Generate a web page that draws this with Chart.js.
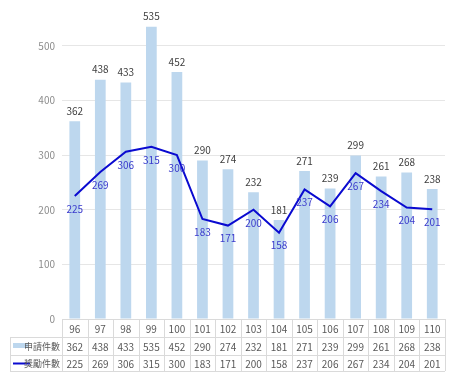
<!DOCTYPE html>
<html><head><meta charset="utf-8">
<script src="https://cdn.jsdelivr.net/npm/chart.js@4/dist/chart.umd.min.js"></script>
<style>html,body{margin:0;padding:0;background:#fff;}#wrap{width:454px;height:380px;}</style>
</head><body><div id="wrap"><canvas id="c" width="454" height="380"></canvas></div>
<script>
const categories = ["96","97","98","99","100","101","102","103","104","105","106","107","108","109","110"];
const applications = [362,438,433,535,452,290,274,232,181,271,239,299,261,268,238];
const awards = [225,269,306,315,300,183,171,200,158,237,206,267,234,204,201];
const seriesNames = ["申請件數","獎勵件數"];
const yTicks = [0,100,200,300,400,500];

const FONT = '"Noto Sans CJK TC", "Noto Sans", sans-serif';
const BAR_COLOR = '#bdd7ee';
const LINE_COLOR = '#0a0ad0';
const GRID = '#e6e6e6';
const TGRID = '#dadada';

const labelPlugin = {
  id: 'labels',
  afterDatasetsDraw(chart) {
    const ctx = chart.ctx;
    ctx.save();
    ctx.font = '10px ' + FONT;
    ctx.textAlign = 'center';
    ctx.textBaseline = 'middle';
    const bm = chart.getDatasetMeta(0);
    ctx.fillStyle = '#404040';
    bm.data.forEach((el, i) => { ctx.fillText(String(applications[i]), el.x, el.y - 10); });
    const lm = chart.getDatasetMeta(1);
    ctx.fillStyle = '#3a3acc';
    lm.data.forEach((el, i) => { ctx.fillText(String(awards[i]), el.x, el.y + 13); });
    ctx.restore();
  }
};

const tablePlugin = {
  id: 'table',
  afterDraw(chart) {
    const ctx = chart.ctx;
    const x = chart.scales.x;
    const ca = chart.chartArea;
    const top = ca.bottom;
    const rowH = [18, 18, 16];
    const r1 = top + rowH[0], r2 = r1 + rowH[1], r3 = r2 + rowH[2];
    const leftT = 10;
    const n = categories.length;
    const step = (ca.right - ca.left) / n;
    ctx.save();
    ctx.strokeStyle = TGRID;
    ctx.lineWidth = 1;
    ctx.beginPath();
    ctx.moveTo(ca.left, top + 0.5); ctx.lineTo(ca.right, top + 0.5);
    ctx.moveTo(leftT, r1 + 0.5); ctx.lineTo(ca.right, r1 + 0.5);
    ctx.moveTo(leftT, r2 + 0.5); ctx.lineTo(ca.right, r2 + 0.5);
    ctx.moveTo(leftT, r3 + 0.5); ctx.lineTo(ca.right, r3 + 0.5);
    ctx.moveTo(leftT + 0.5, r1); ctx.lineTo(leftT + 0.5, r3);
    for (let i = 0; i <= n; i++) {
      const xx = Math.round(ca.left + i * step) + 0.5;
      ctx.moveTo(xx, top); ctx.lineTo(xx, r3);
    }
    ctx.stroke();
    ctx.font = '10px ' + FONT;
    ctx.textAlign = 'center';
    ctx.textBaseline = 'middle';
    ctx.fillStyle = '#595959';
    for (let i = 0; i < n; i++) {
      const cx = x.getPixelForValue(i);
      ctx.fillText(categories[i], cx, top + rowH[0] / 2 + 1);
      ctx.fillText(String(applications[i]), cx, r1 + rowH[1] / 2 + 1);
      ctx.fillText(String(awards[i]), cx, r2 + rowH[2] / 2 + 1);
    }
    ctx.fillStyle = BAR_COLOR;
    ctx.fillRect(13, r1 + rowH[1] / 2 - 3, 15, 5);
    ctx.strokeStyle = LINE_COLOR;
    ctx.lineWidth = 2;
    ctx.beginPath();
    ctx.moveTo(13, r2 + rowH[2] / 2 + 0.5); ctx.lineTo(30, r2 + rowH[2] / 2 + 0.5);
    ctx.stroke();
    ctx.font = '9px ' + FONT;
    ctx.textAlign = 'right';
    ctx.fillStyle = '#595959';
    ctx.fillText(seriesNames[0], ca.left - 2, r1 + rowH[1] / 2 + 1);
    ctx.fillText(seriesNames[1], ca.left - 2, r2 + rowH[2] / 2 + 1);
    ctx.restore();
  }
};

new Chart(document.getElementById('c'), {
  data: {
    labels: categories,
    datasets: [
      { type: 'bar', label: seriesNames[0], data: applications, backgroundColor: BAR_COLOR,
        categoryPercentage: 1, barPercentage: 0.42, order: 1 },
      { type: 'line', label: seriesNames[1], data: awards, borderColor: LINE_COLOR, borderWidth: 2,
        pointRadius: 0, tension: 0, fill: false, order: 0 }
    ]
  },
  options: {
    responsive: false,
    animation: false,
    devicePixelRatio: 1,
    layout: { padding: { left: 0, right: 9, top: 10, bottom: 61 } },
    plugins: { legend: { display: false }, tooltip: { enabled: false } },
    scales: {
      x: { display: false, offset: true, grid: { display: false } },
      y: {
        min: 0, max: 560,
        afterBuildTicks(s) { s.ticks = yTicks.map(v => ({ value: v })); },
        afterFit(s) { s.width = 62; },
        border: { display: false },
        grid: { color: GRID, drawTicks: false },
        ticks: { color: '#8c8c8c', padding: 7, font: { family: FONT, size: 10 } }
      }
    }
  },
  plugins: [labelPlugin, tablePlugin]
});
</script>
</body></html>
